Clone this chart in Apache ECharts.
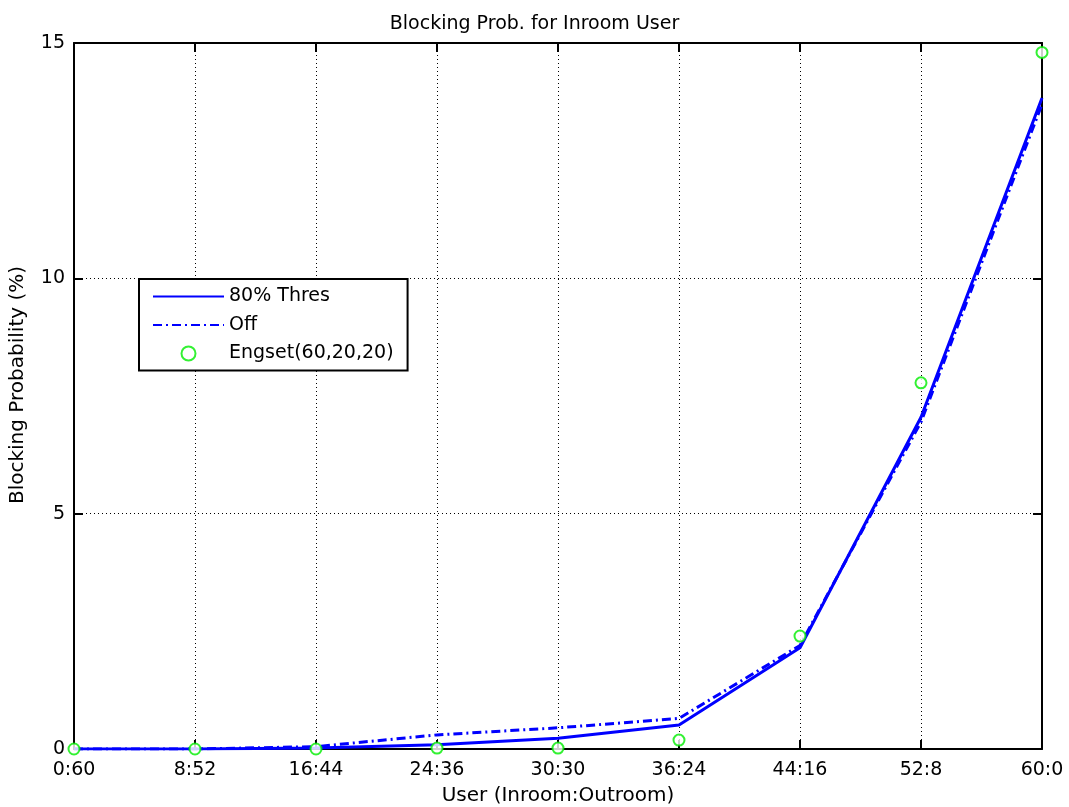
<!DOCTYPE html>
<html>
<head>
<meta charset="utf-8">
<script src="https://cdn.jsdelivr.net/npm/echarts@6/dist/echarts.min.js"></script>
<style>
  html, body { margin: 0; padding: 0; background: #fff; }
  #chart { width: 1069px; height: 807px; }
</style>
</head>
<body>
<div id="chart"></div>
<script>
// ── data ──
const userSplits = ["0:60", "8:52", "16:44", "24:36", "30:30", "36:24", "44:16", "52:8", "60:0"];
const thres80 = [0, 0, 0.02, 0.09, 0.23, 0.51, 2.15, 7.05, 13.83];
const offValues = [0, 0, 0.05, 0.3, 0.45, 0.65, 2.2, 6.95, 13.7];
const engsetValues = [0, 0, 0, 0.02, 0.02, 0.19, 2.4, 7.78, 14.8];
const yTicks = [0, 5, 10, 15];

const FONT = "DejaVu Sans, Liberation Sans, sans-serif";
const chart = echarts.init(document.getElementById("chart"));

const tickStyle = { show: true, inside: true, length: 9, lineStyle: { color: "#000", width: 2 } };
const axisLine = { show: true, onZero: false, lineStyle: { color: "#000", width: 2 } };
const gridLine = { show: true, lineStyle: { color: "#000", width: 1, type: [1, 3] } };

chart.setOption({
  animation: false,
  title: {
    text: "Blocking Prob. for Inroom User",
    left: "center",
    top: 10,
    textStyle: { fontFamily: FONT, fontSize: 19, fontWeight: "normal", color: "#000" },
  },
  grid: { left: 74, right: 27, top: 43, bottom: 58, containLabel: false, outerBoundsMode: "none" },
  legend: {
    orient: "vertical",
    left: 139,
    top: 279,
    padding: [8, 14, 7.5, 13],
    itemWidth: 71,
    itemHeight: 14,
    itemGap: 9.5,
    borderColor: "#000",
    borderWidth: 2,
    backgroundColor: "#fff",
    textStyle: { fontFamily: FONT, fontSize: 19, color: "#000" },
    data: [
      { name: "80% Thres", itemStyle: { opacity: 0 } },
      { name: "Off", itemStyle: { opacity: 0 } },
      { name: "Engset(60,20,20)" },
    ],
  },
  xAxis: [
    {
      type: "category",
      data: userSplits,
      boundaryGap: false,
      name: "User (Inroom:Outroom)",
      nameLocation: "middle",
      nameGap: 37,
      nameTextStyle: { fontFamily: FONT, fontSize: 20, color: "#000" },
      axisLine: axisLine,
      axisTick: Object.assign({ alignWithLabel: true }, tickStyle),
      axisLabel: { fontFamily: FONT, fontSize: 19, color: "#000", margin: 12 },
      splitLine: gridLine,
    },
    {
      type: "category",
      data: userSplits,
      boundaryGap: false,
      position: "top",
      axisLine: axisLine,
      axisTick: tickStyle,
      axisLabel: { show: false },
      splitLine: { show: false },
    },
  ],
  yAxis: [
    {
      type: "value",
      min: 0,
      max: 15,
      interval: 5,
      name: "Blocking Probability (%)",
      nameLocation: "middle",
      nameGap: 46,
      nameTextStyle: { fontFamily: FONT, fontSize: 20, color: "#000", padding: [0, 0, 0, 22] },
      axisLine: axisLine,
      axisTick: tickStyle,
      axisLabel: {
        fontFamily: FONT, fontSize: 19, color: "#000", margin: 9,
        formatter: (v) => (yTicks.includes(v) ? String(v) : ""),
      },
      splitLine: gridLine,
    },
    {
      type: "value",
      min: 0,
      max: 15,
      interval: 5,
      position: "right",
      axisLine: axisLine,
      axisTick: tickStyle,
      axisLabel: { show: false },
      splitLine: { show: false },
    },
  ],
  series: [
    {
      name: "80% Thres",
      type: "line",
      data: thres80,
      showSymbol: false,
      lineStyle: { color: "#0000ff", width: 3 },
      itemStyle: { color: "#0000ff" },
      z: 3,
    },
    {
      name: "Off",
      type: "line",
      data: offValues,
      showSymbol: false,
      lineStyle: { color: "#0000ff", width: 3, type: [9, 4, 2, 4] },
      itemStyle: { color: "#0000ff" },
      z: 2,
    },
    {
      name: "Engset(60,20,20)",
      type: "scatter",
      data: engsetValues,
      symbol: "emptyCircle",
      symbolSize: 11,
      itemStyle: { color: "#00ee00", borderWidth: 2.5 },
      clip: false,
      z: 4,
    },
  ],
});
</script>
</body>
</html>
